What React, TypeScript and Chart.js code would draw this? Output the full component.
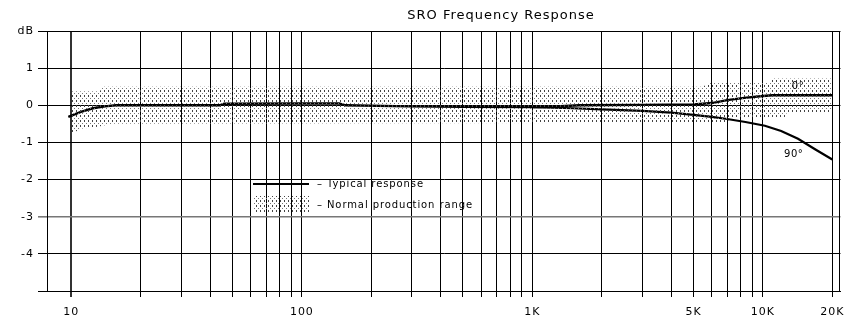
import React, { useEffect, useRef } from 'react';
import { Chart, registerables } from 'chart.js';

Chart.register(...registerables);

// ---- Axis ticks ----
const xTicks = [10, 20, 30, 40, 50, 60, 70, 80, 90, 100, 200, 300, 400, 500, 600, 700, 800, 900, 1000, 2000, 3000, 4000, 5000, 6000, 7000, 8000, 9000, 10000, 20000];
const xTickLabels: Record<number, string> = { 10: '10', 100: '100', 1000: '1K', 5000: '5K', 10000: '10K', 20000: '20K' };
const yTicks = [-5, -4, -3, -2, -1, 0, 1, 2];
const yTickLabels = ['', '-4', '-3', '-2', '-1', '0', '1', 'dB'];

// ---- Typical response, 0° ----
const typicalFreq = [9.7, 11, 12.4, 14, 15.6, 20, 44, 46, 100, 145, 155, 290, 500, 1000, 1200, 1600, 3000, 5000, 6000, 7000, 8300, 10000, 11000, 20000];
const typicalDb = [-0.31, -0.18, -0.08, -0.03, 0, 0, 0.0, 0.04, 0.05, 0.05, 0.0, -0.03, -0.04, -0.05, -0.04, 0.0, 0.01, 0.02, 0.06, 0.14, 0.2, 0.25, 0.27, 0.27];

// ---- Typical response, 90° ----
const offAxisFreq = [1000, 1500, 2000, 3000, 4000, 5000, 6000, 7000, 8400, 10200, 12000, 14200, 16900, 20000];
const offAxisDb = [-0.05, -0.08, -0.11, -0.15, -0.2, -0.26, -0.31, -0.37, -0.45, -0.55, -0.69, -0.9, -1.19, -1.46];

// ---- Normal production range ----
const rangeUpperFreq = [10, 13.3, 13.6, 5500, 5800, 10800, 11000, 20000];
const rangeUpperDb = [0.37, 0.37, 0.5, 0.5, 0.6, 0.6, 0.72, 0.72];
const rangeLowerFreq = [10, 10.5, 11, 13, 15, 7000, 7200, 12500, 12700, 20000];
const rangeLowerDb = [-0.78, -0.7, -0.63, -0.58, -0.5, -0.47, -0.33, -0.33, -0.2, -0.2];

const toPoints = (xs: number[], ys: number[]) => xs.map((x, i) => ({ x, y: ys[i] }));

const FONT = '"DejaVu Sans", "Liberation Sans", Arial, sans-serif';

export default function App() {
  const canvasRef = useRef<HTMLCanvasElement | null>(null);

  useEffect(() => {
    const canvas = canvasRef.current;
    if (!canvas) return;
    const ctx0 = canvas.getContext('2d')!;

    const pc = document.createElement('canvas');
    pc.width = 4;
    pc.height = 5;
    const p = pc.getContext('2d')!;
    p.fillStyle = '#444';
    p.fillRect(0, 0, 1, 2);
    p.fillStyle = '#777';
    p.fillRect(2, 3, 1, 1);
    const pattern = ctx0.createPattern(pc, 'repeat')!;

    const overlay = {
      id: 'overlay',
      beforeDraw(chart: any) {
        (chart.ctx as any).letterSpacing = '1px';
      },
      afterDraw(chart: any) {
        const { ctx, chartArea: a, scales } = chart;
        ctx.save();
        (ctx as any).letterSpacing = '0px';
        // plot border
        ctx.strokeStyle = '#000';
        ctx.lineWidth = 1;
        ctx.strokeRect(Math.round(a.left) + 0.5, Math.round(a.top) + 0.5, Math.round(a.right - a.left) - 1, Math.round(a.bottom - a.top));

        // title
        (ctx as any).letterSpacing = '1px';
        ctx.fillStyle = '#000';
        ctx.font = `13px ${FONT}`;
        ctx.textAlign = 'center';
        ctx.textBaseline = 'middle';
        ctx.fillText('SRO Frequency Response', 501, 16);

        // curve annotations
        ctx.font = `10px ${FONT}`;
        (ctx as any).letterSpacing = '0.5px';
        const xs = scales.x;
        const ys = scales.y;
        ctx.fillText('0°', xs.getPixelForValue(14200), ys.getPixelForValue(0.52));
        ctx.fillText('90°', xs.getPixelForValue(13600), ys.getPixelForValue(-1.33));

        // legend
        const lx = a.left + 206;
        ctx.strokeStyle = '#000';
        ctx.lineWidth = 2.2;
        ctx.beginPath();
        ctx.moveTo(lx, 184);
        ctx.lineTo(lx + 56, 184);
        ctx.stroke();
        ctx.fillStyle = pattern;
        ctx.fillRect(lx, 196, 56, 17);
        ctx.fillStyle = '#000';
        ctx.textAlign = 'left';
        ctx.font = `10px ${FONT}`;
        (ctx as any).letterSpacing = '0.9px';
        ctx.fillText('– Typical response', lx + 64, 184);
        ctx.fillText('– Normal production range', lx + 64, 205);
        ctx.restore();
      },
    };

    const chart = new Chart(canvas, {
      type: 'line',
      data: {
        datasets: [
          {
            label: 'Normal production range',
            data: toPoints(rangeUpperFreq, rangeUpperDb),
            borderWidth: 0,
            borderColor: 'rgba(0,0,0,0)',
            backgroundColor: pattern as any,
            pointRadius: 0,
            fill: '+1',
          },
          {
            label: 'range-lower',
            data: toPoints(rangeLowerFreq, rangeLowerDb),
            borderWidth: 0,
            borderColor: 'rgba(0,0,0,0)',
            pointRadius: 0,
            fill: false,
          },
          {
            label: '90°',
            data: toPoints(offAxisFreq, offAxisDb),
            borderColor: '#000',
            borderWidth: 2.2,
            pointRadius: 0,
            fill: false,
          },
          {
            label: 'Typical response',
            data: toPoints(typicalFreq, typicalDb),
            borderColor: '#000',
            borderWidth: 2.4,
            pointRadius: 0,
            fill: false,
          },
        ],
      },
      options: {
        responsive: false,
        animation: false,
        devicePixelRatio: 1,
        parsing: true,
        elements: { line: { tension: 0 } },
        layout: { padding: { top: 31, right: 10, left: 0, bottom: 0 } },
        plugins: {
          legend: { display: false },
          title: { display: false },
          tooltip: { enabled: false },
        },
        scales: {
          x: {
            type: 'logarithmic',
            min: 7.84,
            max: 21700,
            afterBuildTicks: (scale: any) => {
              scale.ticks = xTicks.map((v) => ({ value: v }));
            },
            afterFit: (scale: any) => {
              scale.height = 27;
            },
            ticks: {
              autoSkip: false,
              maxRotation: 0,
              minRotation: 0,
              padding: 9,
              color: '#000',
              font: { family: FONT, size: 11 },
              callback: (v: any) => xTickLabels[Number(v)] ?? '',
            },
            grid: {
              color: (c: any) => (c.tick && c.tick.value === 10 ? '#333' : '#000'),
              lineWidth: (c: any) => (c.tick && c.tick.value === 10 ? 2 : 1),
              drawTicks: true,
              tickLength: 6,
            },
            border: { display: true, color: '#000', width: 1 },
          },
          y: {
            type: 'linear',
            min: -5,
            max: 2,
            afterBuildTicks: (scale: any) => {
              scale.ticks = yTicks.map((v) => ({ value: v }));
            },
            afterFit: (scale: any) => {
              scale.width = 47;
            },
            ticks: {
              autoSkip: false,
              padding: 4,
              color: '#000',
              font: { family: FONT, size: 11 },
              callback: (v: any) => yTickLabels[yTicks.indexOf(Number(v))] ?? '',
            },
            grid: {
              color: (c: any) => (c.tick && c.tick.value === -3 ? '#777' : '#000'),
              lineWidth: (c: any) => (c.tick && c.tick.value === -3 ? 1.6 : 1),
              drawTicks: true,
              tickLength: 9,
            },
            border: { display: true, color: '#000', width: 1 },
          },
        },
      },
      plugins: [overlay],
    } as any);

    return () => chart.destroy();
  }, []);

  return (
    <div style={{ position: 'absolute', left: 0, top: 0, width: 852, height: 318, background: '#fff' }}>
      <canvas ref={canvasRef} width={852} height={318} style={{ width: 852, height: 318, display: 'block' }} />
    </div>
  );
}
